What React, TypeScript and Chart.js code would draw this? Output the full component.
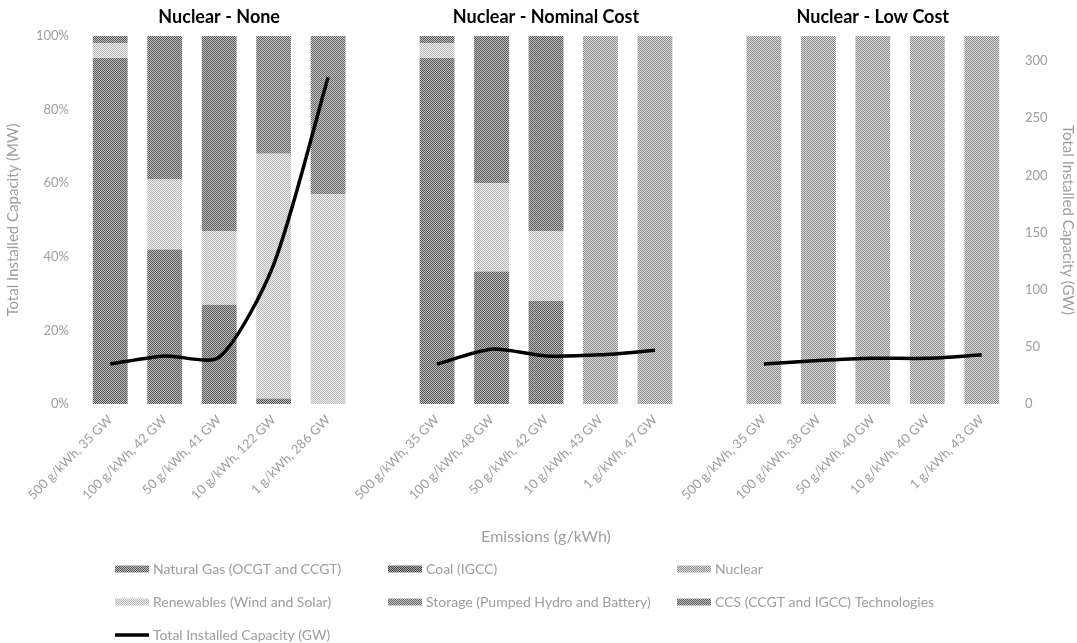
import React, { useEffect, useRef } from 'react';
import { Chart, registerables } from 'chart.js';

Chart.register(...registerables);

// ---------- data ----------
const categories = [
  '500 g/kWh, 35 GW', '100 g/kWh, 42 GW', '50 g/kWh, 41 GW', '10 g/kWh, 122 GW', '1 g/kWh, 286 GW',
  '',
  '500 g/kWh, 35 GW', '100 g/kWh, 48 GW', '50 g/kWh, 42 GW', '10 g/kWh, 43 GW', '1 g/kWh, 47 GW',
  '',
  '500 g/kWh, 35 GW', '100 g/kWh, 38 GW', '50 g/kWh, 40 GW', '10 g/kWh, 40 GW', '1 g/kWh, 43 GW',
];
const panelTitles = ['Nuclear - None', 'Nuclear - Nominal Cost', 'Nuclear - Low Cost'];

const naturalGas = [94, 42, 27, 1.5, 0, null, 94, 36, 28, 0, 0, null, 0, 0, 0, 0, 0];
const coal = [0, 0, 0, 0, 0, null, 0, 0, 0, 0, 0, null, 0, 0, 0, 0, 0];
const nuclear = [0, 0, 0, 0, 0, null, 0, 0, 0, 100, 100, null, 100, 100, 100, 100, 100];
const renewables = [4, 19, 20, 66.5, 57, null, 4, 24, 19, 0, 0, null, 0, 0, 0, 0, 0];
const storage = [0, 0, 0, 32, 43, null, 0, 0, 0, 0, 0, null, 0, 0, 0, 0, 0];
const ccs = [2, 39, 53, 0, 0, null, 2, 40, 53, 0, 0, null, 0, 0, 0, 0, 0];
const totalCapacityGW = [35, 42, 41, 122, 286, null, 35, 48, 42, 43, 47, null, 35, 38, 40, 40, 43];

const seriesNames = [
  'Natural Gas (OCGT and CCGT)',
  'Coal (IGCC)',
  'Nuclear',
  'Renewables (Wind and Solar)',
  'Storage (Pumped Hydro and Battery)',
  'CCS (CCGT and IGCC) Technologies',
  'Total Installed Capacity (GW)',
];

const FONT = 'Lato, "Open Sans", sans-serif';
const GRAY = '#9d9d9d';

function makePattern(c1: string, c2: string): CanvasPattern | string {
  const c = document.createElement('canvas');
  c.width = 2;
  c.height = 2;
  const g = c.getContext('2d');
  if (!g) return c1;
  g.fillStyle = c1;
  g.fillRect(0, 0, 2, 2);
  g.fillStyle = c2;
  g.fillRect(0, 0, 1, 1);
  g.fillRect(1, 1, 1, 1);
  const p = g.createPattern(c, 'repeat');
  return p || c1;
}

const panelDecor = {
  id: 'panelDecor',
  afterDraw(chart: any) {
    const { ctx } = chart;
    const x = chart.scales.x;
    ctx.save();
    // panel titles
    ctx.font = `bold 18px ${FONT}`;
    ctx.fillStyle = '#000';
    ctx.textAlign = 'center';
    ctx.textBaseline = 'middle';
    panelTitles.forEach((t, i) => {
      const cx = x.getPixelForValue(i * 6 + 2);
      ctx.fillText(t, cx, 17);
    });
    // legend
    const colX = [115, 388, 677];
    const rowY = [569, 602, 635];
    ctx.font = `14px ${FONT}`;
    ctx.textAlign = 'left';
    chart.data.datasets.forEach((ds: any, i: number) => {
      const col = i % 3;
      const row = Math.floor(i / 3);
      const mx = colX[col];
      const my = rowY[row];
      if (ds.type === 'line') {
        ctx.strokeStyle = '#000';
        ctx.lineWidth = 3.5;
        ctx.beginPath();
        ctx.moveTo(mx, my);
        ctx.lineTo(mx + 34, my);
        ctx.stroke();
      } else {
        ctx.fillStyle = ds.backgroundColor;
        ctx.fillRect(mx, my - 3.5, 34, 7);
      }
      ctx.fillStyle = GRAY;
      ctx.fillText(ds.label, mx + 38, my);
    });
    ctx.restore();
  },
};

export default function App() {
  const ref = useRef<HTMLCanvasElement>(null);

  useEffect(() => {
    if (!ref.current) return;
    const pats = [
      makePattern('#bdbdbd', '#585858'),
      makePattern('#aaaaaa', '#444444'),
      makePattern('#dedede', '#8a8a8a'),
      makePattern('#efefef', '#b8b8b8'),
      makePattern('#c4c4c4', '#666666'),
      makePattern('#bdbdbd', '#5c5c5c'),
    ];
    const barSeries = [naturalGas, coal, nuclear, renewables, storage, ccs];
    const barDatasets = barSeries.map((d, i) => ({
      type: 'bar' as const,
      label: seriesNames[i],
      data: d,
      backgroundColor: pats[i],
      borderWidth: 0,
      yAxisID: 'y',
      order: 1,
      barPercentage: 0.64,
      categoryPercentage: 1,
    }));
    const chart = new Chart(ref.current, {
      type: 'bar',
      data: {
        labels: categories,
        datasets: [
          ...barDatasets,
          {
            type: 'line' as const,
            label: seriesNames[6],
            data: totalCapacityGW,
            borderColor: '#000',
            backgroundColor: '#000',
            borderWidth: 3.5,
            pointRadius: 0,
            tension: 0.25,
            spanGaps: false,
            yAxisID: 'y1',
            order: 0,
          } as any,
        ],
      },
      options: {
        animation: false,
        responsive: true,
        maintainAspectRatio: false,
        layout: { padding: { top: 36, bottom: 95, left: 0, right: 0 } },
        plugins: {
          legend: { display: false },
          tooltip: { enabled: false },
        },
        scales: {
          x: {
            stacked: true,
            grid: { display: false, drawTicks: false },
            border: { display: false },
            ticks: {
              minRotation: 45,
              maxRotation: 45,
              autoSkip: false,
              padding: 8,
              color: GRAY,
              font: { family: FONT, size: 13 },
            },
            title: {
              display: true,
              text: 'Emissions (g/kWh)',
              color: GRAY,
              font: { family: FONT, size: 16 },
              padding: { top: 0, bottom: 2 },
            },
            afterFit(s: any) {
              s.height = 144;
            },
          },
          y: {
            stacked: true,
            min: 0,
            max: 100,
            grid: { display: false, drawTicks: false },
            border: { display: false },
            ticks: {
              stepSize: 20,
              padding: 14,
              color: GRAY,
              font: { family: FONT, size: 13 },
              callback: (v: any) => `${v}%`,
            },
            title: {
              display: true,
              text: 'Total Installed Capacity (MW)',
              color: GRAY,
              font: { family: FONT, size: 15 },
              padding: { top: 4, bottom: 0 },
            },
            afterFit(s: any) {
              s.width = 83;
            },
          },
          y1: {
            position: 'right',
            min: 0,
            max: 322,
            grid: { display: false, drawTicks: false },
            border: { display: false },
            ticks: {
              stepSize: 50,
              padding: 16,
              color: GRAY,
              font: { family: FONT, size: 13 },
            },
            afterBuildTicks(s: any) {
              s.ticks = s.ticks.filter((t: any) => t.value % 50 === 0);
            },
            title: {
              display: true,
              text: 'Total Installed Capacity (GW)',
              color: GRAY,
              font: { family: FONT, size: 15 },
              padding: { top: 0, bottom: 2 },
            },
            afterFit(s: any) {
              s.width = 68;
            },
          },
        },
      } as any,
      plugins: [panelDecor],
    });
    return () => chart.destroy();
  }, []);

  return (
    <div style={{ position: 'fixed', left: 0, top: 0, width: 1077, height: 643, background: '#fff' }}>
      <canvas ref={ref} />
    </div>
  );
}
